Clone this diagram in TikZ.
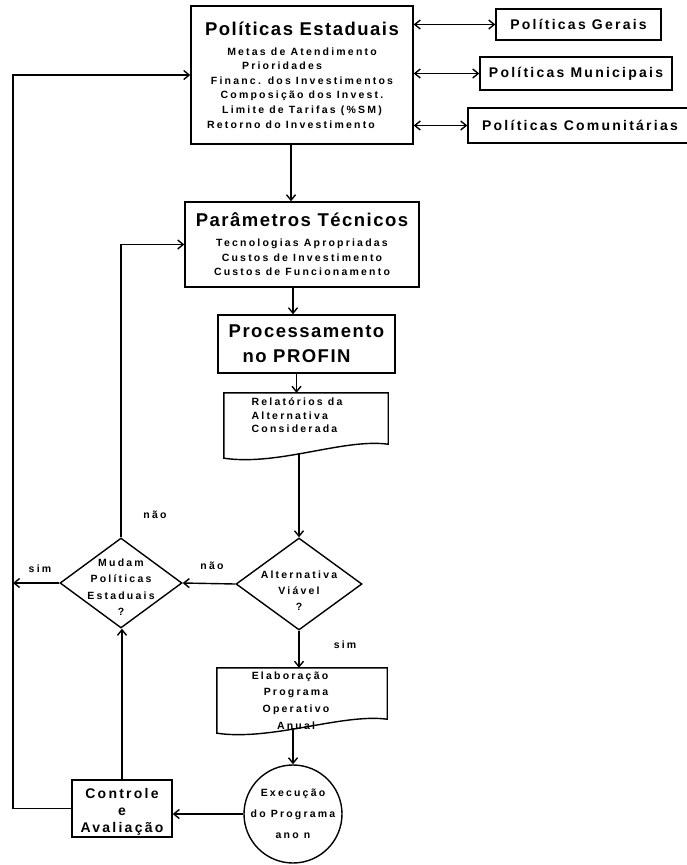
\documentclass[tikz,border=0pt]{standalone}
\usepackage{fontspec}
\setmainfont{Liberation Sans}
\newfontfamily\fbigfam{Liberation Sans}[LetterSpace=8]
\newfontfamily\fmedfam{Liberation Sans}[LetterSpace=16]
\newfontfamily\fsmlfam{Liberation Sans}[LetterSpace=21]
\newcommand\tbig{\fbigfam\bfseries\fontsize{18.5}{25}\selectfont}
\newcommand\tmed[1][18]{\fmedfam\bfseries\fontsize{14}{#1}\selectfont}
\newcommand\tsml[1][14.6]{\fsmlfam\bfseries\fontsize{10.5}{#1}\selectfont}
\newcommand\padr[1]{\rule{#1}{0pt}}
\usetikzlibrary{arrows.meta,shapes.geometric,calc}
\newcommand\docpath[1]{\draw[lw] (#1.north west) -- (#1.north east) -- ([yshift=14pt]#1.south east) .. controls ([xshift=-45pt,yshift=20pt]#1.south east) and ([xshift=55pt,yshift=-8pt]#1.south west) .. (#1.south west) -- cycle;}
\begin{document}
\begin{tikzpicture}[x=1pt,y=-1pt,
  >={Straight Barb[length=5.5pt,width=9pt]},
  lw/.style={line width=1.4pt},
  conn/.style={lw,->},
  dconn/.style={lw,<->},
  box/.style={draw,lw,rectangle,inner sep=0pt,align=center},
  lab/.style={font=\tsml,inner sep=1pt}]
\useasboundingbox (0,0) rectangle (686,865);

% top policies
\node[box, minimum width=222pt, minimum height=138pt, font=\tsml] (est) at (302,75)
  {{\tbig Políticas Estaduais}\\[5pt] Metas de Atendimento\\ Prioridades\padr{40pt}\\ Financ. dos Investimentos\\ Composição dos Invest.\\ Limite de Tarifas (\%SM)\\ Retorno do Investimento\padr{22pt}};
\node[box, minimum width=165pt, minimum height=31pt, font=\tmed] (ger) at (578.5,24.5) {Políticas Gerais};
\node[box, minimum width=192pt, minimum height=33pt, font=\tmed] (mun) at (576,73.5) {Políticas Municipais};
\node[box, minimum width=224pt, minimum height=35pt, font=\tmed] (com) at (580,125.5) {Políticas Comunitárias};

\draw[dconn] (est.east |- ger.west) -- (ger.west);
\draw[dconn] (est.east |- mun.west) -- (mun.west);
\draw[dconn] (est.east |- com.west) -- (com.west);

% technical parameters
\node[box, minimum width=234pt, minimum height=85pt, font={\tsml[14.5]}] (par) at (302,244.5)
  {{\tbig Parâmetros Técnicos}\\[5.5pt] Tecnologias Apropriadas\\ Custos de Investimento\\ Custos de Funcionamento};
\node[box, minimum width=177pt, minimum height=58pt, font=\tbig] (pro) at (306.5,344) {Processamento\\ no PROFIN\padr{20pt}};

\node[rectangle, inner sep=0pt, minimum width=164pt, minimum height=65pt,
  label={[font={\tsml[13.5]}, align=left, xshift=-9pt, yshift=10pt]center:Relatórios da\\ Alternativa\\ Considerada}] (rel) at (306,425.5) {};
\docpath{rel}

\node[draw, lw, diamond, minimum width=126pt, minimum height=92pt, inner sep=0pt,
  label={[font={\tsml[16]}, align=center, yshift=-7pt]center:Alternativa\\ Viável\\ ?}] (alt) at (299,584) {};
\node[draw, lw, diamond, minimum width=122pt, minimum height=90pt, inner sep=0pt,
  label={[font={\tsml[16.5]}, align=center, yshift=-4pt]center:Mudam\\ Políticas\\ Estaduais\\ ?}] (mud) at (121,583) {};

\node[rectangle, inner sep=0pt, minimum width=170pt, minimum height=65pt,
  label={[font={\tsml[16.7]}, align=center, xshift=-6pt]center:Elaboração\padr{12pt}\\ Programa\\ Operativo\\ Anual}] (ela) at (302,700.5) {};
\docpath{ela}

\node[draw, lw, circle, minimum size=98pt, inner sep=0pt,
  label={[font={\tsml[21]}, align=center]center:Execução\\ do Programa\\ ano n}] (exe) at (293,814) {};
\node[box, minimum width=100pt, minimum height=57pt,
  label={[font={\tmed[17]}, align=center, yshift=-3pt]center:Controle\\ e\\ Avaliação}] (con) at (122,808.5) {};

% connectors
\coordinate (e1) at ([xshift=-11pt]est.south);
\draw[conn] (e1) -- (e1 |- par.north);
\coordinate (p1) at ([xshift=-9pt]par.south);
\draw[conn] (p1) -- (p1 |- pro.north);
\coordinate (q1) at ([xshift=-10pt]pro.south);
\draw[conn] (q1) -- (q1 |- rel.north);
\coordinate (r2) at ($(rel.south -| alt.north)+(0,-5)$);
\draw[conn] (r2) -- (alt.north);
\draw[conn] (alt.west) -- (mud.east);
\node[lab] (nao1) at (212,566) {não};
\coordinate (lx) at (13,0);
\draw[conn] (mud.west) -- (mud.west -| lx);
\node[lab] (sim1) at (40,569) {sim};
\draw[conn] (mud.north) -- (mud.north |- par.west) -- (par.west);
\node[lab] (nao2) at (155,515) {não};
\draw[conn] (alt.south) -- (alt.south |- ela.north);
\node[lab] (sim2) at (345,645) {sim};
\coordinate (x2) at ($(ela.south -| exe.north)+(0,-5)$);
\draw[conn] (x2) -- (exe.north);
\draw[conn] (exe.west) -- (exe.west -| con.east);
\draw[conn] (con.north) -- (con.north |- mud.south);
\draw[conn] (con.west) -- (con.west -| lx) -- (lx |- est.west) -- (est.west);
\end{tikzpicture}
\end{document}
